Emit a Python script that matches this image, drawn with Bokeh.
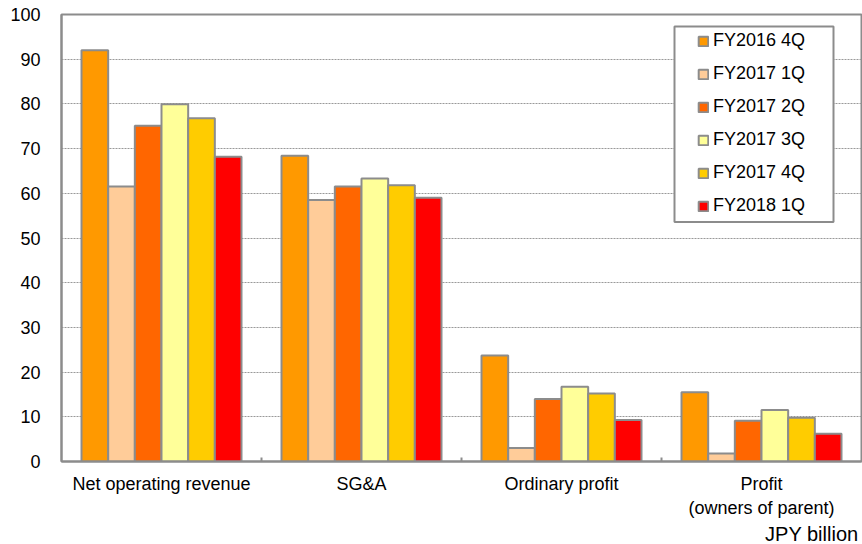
from bokeh.plotting import figure
from bokeh.models import (ColumnDataSource, Range1d, FixedTicker, Legend, LegendItem,
                          BoxAnnotation, Title)
from bokeh.embed import file_html
from bokeh.resources import INLINE

# ---- data ----
categories = ["Net operating revenue", "SG&A", "Ordinary profit", "Profit\n(owners of parent)"]
series_names = ["FY2016 4Q", "FY2017 1Q", "FY2017 2Q", "FY2017 3Q", "FY2017 4Q", "FY2018 1Q"]
fy2016_4q = [92.0, 68.4, 23.7, 15.5]
fy2017_1q = [61.5, 58.5, 3.0, 1.8]
fy2017_2q = [75.1, 61.5, 14.0, 9.1]
fy2017_3q = [79.9, 63.3, 16.7, 11.5]
fy2017_4q = [76.8, 61.8, 15.2, 9.8]
fy2018_1q = [68.2, 59.0, 9.3, 6.2]
y_ticks = [0, 10, 20, 30, 40, 50, 60, 70, 80, 90, 100]
unit_label = "JPY billion"

series_values = [fy2016_4q, fy2017_1q, fy2017_2q, fy2017_3q, fy2017_4q, fy2018_1q]
colors = ["#FF9900", "#FFCC99", "#FF6600", "#FFFF99", "#FFCC00", "#FF0000"]

FONT = "Liberation Sans"
GRAY = "#8c8c8c"

p = figure(width=862, height=544, output_backend="svg", toolbar_location=None,
           x_range=Range1d(0, len(categories)), y_range=Range1d(0, 100),
           min_border_left=61, min_border_top=14, min_border_right=1, min_border_bottom=82)
p.background_fill_color = "white"
p.border_fill_color = "white"
p.outline_line_color = GRAY
p.outline_line_width = 2

# grid
p.xgrid.visible = False
p.ygrid.grid_line_color = "#999999"
p.ygrid.grid_line_dash = "2 1"
p.ygrid.grid_line_width = 1

# y axis
p.yaxis.ticker = FixedTicker(ticks=y_ticks)
p.yaxis.axis_line_color = GRAY
p.yaxis.axis_line_width = 2
p.yaxis.major_tick_in = 0
p.yaxis.major_tick_out = 0
p.yaxis.minor_tick_line_color = None
p.yaxis.major_label_text_font = FONT
p.yaxis.major_label_text_font_size = "18px"
p.yaxis.major_label_text_color = "#000000"
p.yaxis.major_label_standoff = 21

# x axis
n = len(categories)
centers = [i + 0.5 for i in range(n)]
p.xaxis.ticker = FixedTicker(ticks=centers, minor_ticks=list(range(1, n)))
p.xaxis.major_label_overrides = {c: lab for c, lab in zip(centers, categories)}
p.xaxis.axis_line_color = GRAY
p.xaxis.axis_line_width = 2
p.xaxis.major_tick_line_color = None
p.xaxis.major_tick_in = 0
p.xaxis.major_tick_out = 0
p.xaxis.minor_tick_line_color = GRAY
p.xaxis.minor_tick_line_width = 2
p.xaxis.minor_tick_in = 4
p.xaxis.minor_tick_out = 0
p.xaxis.major_label_text_font = FONT
p.xaxis.major_label_text_font_size = "18px"
p.xaxis.major_label_text_color = "#000000"
p.xaxis.major_label_standoff = 12

# bars
k = len(series_names)
group_pad = 0.1
bw = (1 - 2 * group_pad) / k
items = []
for j, (name, vals, col) in enumerate(zip(series_names, series_values, colors)):
    xs = [i + group_pad + bw * (j + 0.5) for i in range(n)]
    src = ColumnDataSource(dict(x=xs, top=vals))
    r = p.vbar(x="x", top="top", width=bw, bottom=0, source=src,
               fill_color=col, line_color=GRAY, line_width=2)
    items.append(LegendItem(label=name, renderers=[r]))

# legend frame
box = BoxAnnotation(left=3.065, right=3.86, bottom=53.6, top=97.3,
                    fill_color="white", fill_alpha=1.0,
                    line_color=GRAY, line_width=2, line_alpha=1.0)
p.add_layout(box)

legend = Legend(items=items, location=(630, 239), padding=6,
                glyph_width=12, glyph_height=12, label_height=21, spacing=12,
                label_standoff=4,
                label_text_font=FONT, label_text_font_size="18px",
                label_text_color="#000000",
                background_fill_alpha=0, border_line_alpha=0)
p.add_layout(legend, "center")

# unit label
p.add_layout(Title(text=unit_label, align="right", offset=3, standoff=0,
                   text_font=FONT, text_font_size="20px", text_font_style="normal",
                   text_color="#000000"), "below")

open("out.html", "w").write(file_html(p, INLINE))
